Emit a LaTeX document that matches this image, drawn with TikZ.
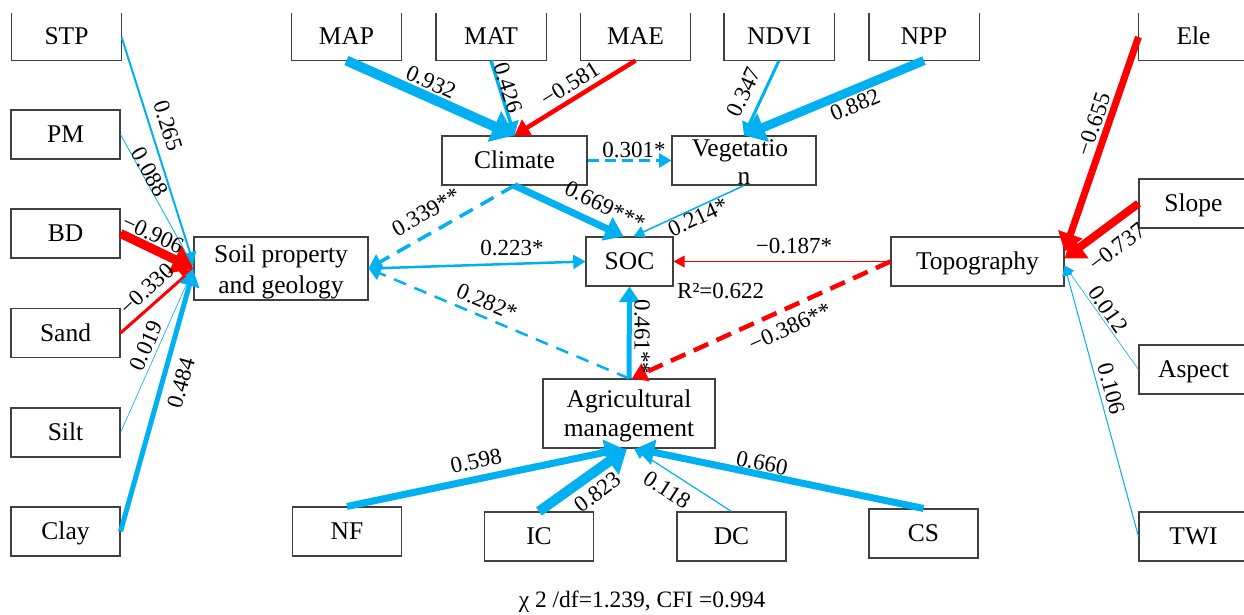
\documentclass[tikz,border=0pt]{standalone}
\usepackage{fontspec}
\setmainfont{Liberation Serif}
\usetikzlibrary{arrows.meta}
\definecolor{cblue}{HTML}{00B0F0}
\definecolor{cred}{HTML}{FF0000}
\definecolor{boxgray}{HTML}{404040}
\newcommand\boxfont{\fontsize{25.5}{30}\selectfont}
\newcommand\labfont{\fontsize{23}{27}\selectfont}
\newcommand\opentop[1]{\draw[draw=boxgray,line width=1.1pt] (#1.north west) -- (#1.south west) -- (#1.south east) -- (#1.north east);}
\begin{document}
\begin{tikzpicture}[x=1pt,y=-1pt,
 bx/.style={draw=boxgray, line width=1.1pt, inner sep=0pt, minimum width=109pt, minimum height=49pt, font=\boxfont, text height=18pt, text depth=2pt},
 obx/.style={bx, draw=none, minimum height=46pt},
 txt/.style={font=\boxfont, anchor=base, inner sep=0pt},
 lab/.style={font=\labfont, inner sep=0pt},
 tip/.style={-{Triangle[length=9pt 1.3,width=8pt 2.4]}},
 bl/.style={draw=cblue, tip, line width=#1},
 rd/.style={draw=cred, tip, line width=#1},
]
\useasboundingbox (0,0) rectangle (1244,615);
% left column
\node[obx] (stp) at (66.5,37) {STP}; \opentop{stp}
\node[bx] (pm) at (65.5,134.5) {PM};
\node[bx] (bd) at (65.5,233.5) {BD};
\node[bx] (sand) at (65.5,333) {Sand};
\node[bx] (silt) at (65.5,432.5) {Silt};
\node[bx] (clay) at (65.5,531.5) {Clay};
\node[bx, minimum width=174pt, minimum height=63pt] (soil) at (281,268.5) {};
\node[txt] (soilt1) at (281,262) {Soil property};
\node[txt] (soilt2) at (281,293) {and geology};
% top row
\node[obx] (map) at (346.5,37) {MAP}; \opentop{map}
\node[obx] (mat) at (491,37) {MAT}; \opentop{mat}
\node[obx] (mae) at (635.5,37) {MAE}; \opentop{mae}
\node[obx] (ndvi) at (779,37) {NDVI}; \opentop{ndvi}
\node[obx] (npp) at (924,37) {NPP}; \opentop{npp}
\node[obx] (ele) at (1193.5,37) {Ele}; \opentop{ele}
% middle
\node[bx, minimum width=145pt] (clim) at (514.5,160.5) {Climate};
\node[bx, minimum width=144pt] (veg) at (744,160.5) {};
\node[txt] (vegt1) at (740,156) {Vegetatio};
\node[txt] (vegt2) at (744,184) {n};
\node[bx, minimum width=87pt] (soc) at (629.5,261.5) {SOC};
\node[bx, minimum width=173pt] (topo) at (977.5,261.5) {Topography};
\node[bx, minimum width=172pt, minimum height=69pt] (agri) at (629,413.5) {};
\node[txt] (agrit1) at (629,407) {Agricultural};
\node[txt] (agrit2) at (629,436) {management};
% right column
\node[bx] (slope) at (1193.5,203.5) {Slope};
\node[bx] (aspect) at (1193.5,369.5) {Aspect};
\node[bx] (twi) at (1193.5,536.5) {TWI};
% bottom row
\node[bx] (nf) at (347,531.5) {NF};
\node[bx] (ic) at (539,536.5) {IC};
\node[bx] (dc) at (731.5,536.5) {DC};
\node[bx] (cs) at (923.5,533.5) {CS};
% connectors: left group
\draw[bl=2] (stp.east) -- ([yshift=5pt]soil.west);
\draw[bl=0.8] (pm.east) -- ([yshift=2pt]soil.west);
\draw[rd=3] (sand.east) -- (soil.west);
\draw[bl=0.6] (silt.east) -- (soil.west);
\draw[bl=5] (clay.east) -- ([yshift=-2pt]soil.west);
\draw[rd=9] (bd.east) -- (soil.west);
% top group
\draw[bl=10] (map.south) -- (clim.north);
\draw[bl=3.5] (mat.south) -- (clim.north);
\draw[rd=4.5] (mae.south) -- (clim.north);
\draw[bl=3] (ndvi.south) -- (veg.north);
\draw[bl=9] (npp.south) -- (veg.north);
% centre
\draw[bl=2.5, dash pattern=on 11pt off 6pt] (clim.east) -- (veg.west);
\draw[bl=7] (clim.south) -- ([xshift=-6pt]soc.north);
\draw[bl=1.5] (veg.south) -- ([xshift=4pt]soc.north);
\draw[bl=3.5, dash pattern=on 15pt off 9pt] (clim.south) -- (soil.east);
\draw[bl=2.5] (soil.east) -- (soc.west);
\draw[bl=2.5, dash pattern=on 13pt off 9pt] (agri.north) -- (soil.east);
\draw[bl=5] (agri.north) -- (soc.south);
\draw[rd=1.5] (topo.west) -- (soc.east);
\draw[rd=4.5, dash pattern=on 16pt off 9pt] (topo.west) -- ([xshift=3pt]agri.north);
% right group
\draw[rd=7] (ele.west) -- ([yshift=10pt]topo.east);
\draw[rd=8] (slope.west) -- ([yshift=3pt]topo.east);
\draw[bl=0.6] (aspect.west) -- ([yshift=-4pt]topo.east);
\draw[bl=1] (twi.west) -- ([yshift=-4pt]topo.east);
% bottom group
\draw[bl=7] (nf.north) -- ([xshift=-6pt]agri.south);
\draw[bl=10] (ic.north) -- ([xshift=-2pt]agri.south);
\draw[bl=1.2] (dc.north) -- ([xshift=5pt]agri.south);
\draw[bl=7] (cs.north) -- ([xshift=7pt]agri.south);
% labels
\node[lab, rotate=-72.5] (l-stp) at (168,126) {0.265};
\node[lab, rotate=-61] (l-pm) at (150,172) {0.088};
\node[lab, rotate=-25] (l-bd) at (153,234) {−0.906};
\node[lab, rotate=43] (l-sand) at (147,289) {−0.330};
\node[lab, rotate=65.8] (l-silt) at (146,346) {0.019};
\node[lab, rotate=74.3] (l-clay) at (181,383) {0.484};
\node[lab, rotate=-24.3] (l-map) at (431,82) {0.932};
\node[lab, rotate=-72.8] (l-mat) at (508,88) {0.426};
\node[lab, rotate=32.2] (l-mae) at (570,84) {−0.581};
\node[lab, rotate=65.3] (l-ndvi) at (744,92) {0.347};
\node[lab, rotate=22.9] (l-npp) at (855,105) {0.882};
\node[lab] (l-cv) at (634,150) {0.301*};
\node[lab, rotate=-26.2] (l-csoc) at (605,206) {0.669***};
\node[lab, rotate=29.7] (l-csoil) at (426,212) {0.339**};
\node[lab, rotate=24.9] (l-vs) at (698,217) {0.214*};
\node[lab] (l-ss) at (512,248) {0.223*};
\node[lab, rotate=-23] (l-as) at (487,302) {0.282*};
\node[lab, rotate=-90] (l-asoc) at (642,337) {0.461**};
\node[lab] (l-ts) at (794,246) {−0.187*};
\node[lab, rotate=24.5] (l-ta) at (790,327) {−0.386**};
\node[lab, rotate=71.6] (l-ele) at (1094,124) {−0.655};
\node[lab, rotate=38] (l-slope) at (1117,247) {−0.737};
\node[lab, rotate=-55.2] (l-asp) at (1108,309) {0.012};
\node[lab, rotate=-75] (l-twi) at (1111,389) {0.106};
\node[lab, rotate=12.2] (l-nf) at (476,461) {0.598};
\node[lab, rotate=37] (l-ic) at (598,492) {0.823};
\node[lab, rotate=-33] (l-dc) at (667,490) {0.118};
\node[lab, rotate=-11.7] (l-cs) at (762,463) {0.660};
\node[lab, anchor=base west] (r2) at (677,298) {R²=0.622};
\node[font=\fontsize{23.5}{27}\selectfont, anchor=base, inner sep=0pt] (cap) at (642,607) {χ 2 /df=1.239, CFI =0.994};
\end{tikzpicture}
\end{document}
